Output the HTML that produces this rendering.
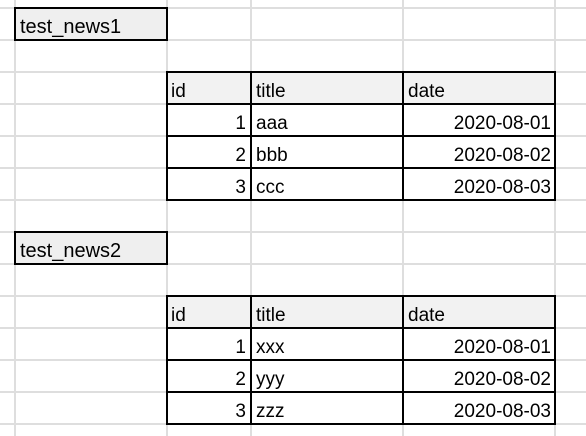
<!DOCTYPE html>
<html><head><style>
body{margin:0;width:586px;height:436px;overflow:hidden;background:#fff;font-family:"Liberation Sans",Arial,sans-serif}
svg{display:block}
text{font-family:"Liberation Sans",Arial,sans-serif;font-size:19px;fill:#000}
</style></head><body>
<svg width="586" height="436" xmlns="http://www.w3.org/2000/svg">
<g stroke="#dedede" stroke-width="2">
<line x1="15" y1="0" x2="15" y2="436"/><line x1="167" y1="0" x2="167" y2="436"/>
<line x1="251" y1="0" x2="251" y2="436"/><line x1="403" y1="0" x2="403" y2="436"/>
<line x1="555" y1="0" x2="555" y2="436"/>
<line x1="0" y1="8" x2="586" y2="8"/><line x1="0" y1="40" x2="586" y2="40"/>
<line x1="0" y1="72" x2="586" y2="72"/><line x1="0" y1="104" x2="586" y2="104"/>
<line x1="0" y1="136" x2="586" y2="136"/><line x1="0" y1="168" x2="586" y2="168"/>
<line x1="0" y1="200" x2="586" y2="200"/><line x1="0" y1="232" x2="586" y2="232"/>
<line x1="0" y1="264" x2="586" y2="264"/><line x1="0" y1="296" x2="586" y2="296"/>
<line x1="0" y1="328" x2="586" y2="328"/><line x1="0" y1="360" x2="586" y2="360"/>
<line x1="0" y1="392" x2="586" y2="392"/><line x1="0" y1="424" x2="586" y2="424"/>
</g>
<rect x="15" y="8" width="152" height="32" fill="#efefef" stroke="#000" stroke-width="2"/>
<text x="20" y="33" style="font-size:20px">test_news1</text>
<rect x="15" y="232" width="152" height="32" fill="#efefef" stroke="#000" stroke-width="2"/>
<text x="20" y="257" style="font-size:20px">test_news2</text>
<rect x="167" y="72" width="388" height="32" fill="#f2f2f2"/>
<rect x="167" y="104" width="388" height="96" fill="#fff"/>
<g stroke="#000" stroke-width="2" fill="none">
<rect x="167" y="72" width="388" height="128"/>
<line x1="167" y1="104" x2="555" y2="104"/><line x1="167" y1="136" x2="555" y2="136"/><line x1="167" y1="168" x2="555" y2="168"/>
<line x1="251" y1="72" x2="251" y2="200"/><line x1="403" y1="72" x2="403" y2="200"/>
</g>
<text x="171" y="97">id</text><text x="256" y="97">title</text><text x="408" y="97">date</text>
<text x="246" y="129" text-anchor="end">1</text><text x="256" y="129">aaa</text><text x="551" y="129" text-anchor="end">2020-08-01</text>
<text x="246" y="161" text-anchor="end">2</text><text x="256" y="161">bbb</text><text x="551" y="161" text-anchor="end">2020-08-02</text>
<text x="246" y="193" text-anchor="end">3</text><text x="256" y="193">ccc</text><text x="551" y="193" text-anchor="end">2020-08-03</text>
<rect x="167" y="296" width="388" height="32" fill="#f2f2f2"/>
<rect x="167" y="328" width="388" height="96" fill="#fff"/>
<g stroke="#000" stroke-width="2" fill="none">
<rect x="167" y="296" width="388" height="128"/>
<line x1="167" y1="328" x2="555" y2="328"/><line x1="167" y1="360" x2="555" y2="360"/><line x1="167" y1="392" x2="555" y2="392"/>
<line x1="251" y1="296" x2="251" y2="424"/><line x1="403" y1="296" x2="403" y2="424"/>
</g>
<text x="171" y="321">id</text><text x="256" y="321">title</text><text x="408" y="321">date</text>
<text x="246" y="353" text-anchor="end">1</text><text x="256" y="353">xxx</text><text x="551" y="353" text-anchor="end">2020-08-01</text>
<text x="246" y="385" text-anchor="end">2</text><text x="256" y="385">yyy</text><text x="551" y="385" text-anchor="end">2020-08-02</text>
<text x="246" y="417" text-anchor="end">3</text><text x="256" y="417">zzz</text><text x="551" y="417" text-anchor="end">2020-08-03</text>
</svg>
</body></html>
